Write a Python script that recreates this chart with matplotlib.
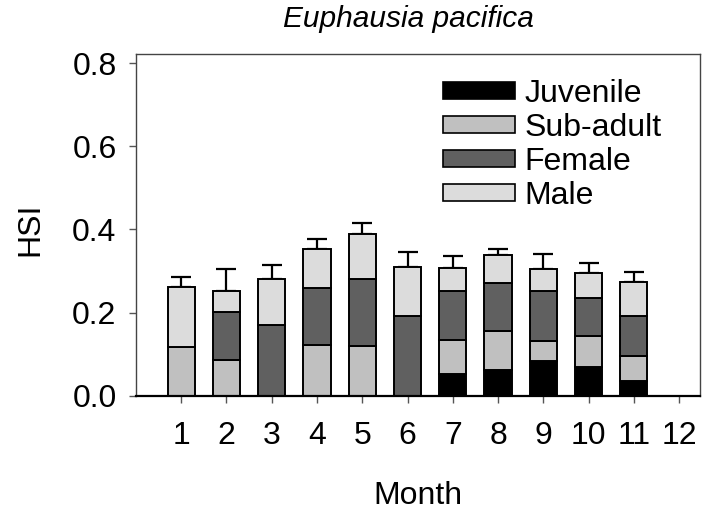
import numpy as np
import matplotlib
matplotlib.use("Agg")
import matplotlib.pyplot as plt
from matplotlib.patches import Patch

plt.rcParams["font.family"] = ["Liberation Sans", "DejaVu Sans"]

meses = np.arange(1, 13)
juvenil = [0, 0, 0, 0, 0, 0, 0.053, 0.062, 0.083, 0.070, 0.037, 0]
subadulto = [0.117, 0.086, 0, 0.122, 0.119, 0, 0.082, 0.095, 0.050, 0.075, 0.060, 0]
hembra = [0, 0.115, 0.170, 0.138, 0.161, 0.192, 0.118, 0.114, 0.119, 0.090, 0.095, 0]
macho = [0.144, 0.052, 0.111, 0.093, 0.108, 0.118, 0.054, 0.068, 0.052, 0.060, 0.082, 0]
error = [0.024, 0.051, 0.034, 0.023, 0.027, 0.036, 0.029, 0.014, 0.037, 0.024, 0.024, 0]

etiquetas = ["Juvenile", "Sub-adult", "Female", "Male"]
colores = ["#000000", "#c0c0c0", "#606060", "#dcdcdc"]

fig = plt.figure(figsize=(7.02, 5.15), dpi=100)
ax = fig.add_axes([0.1937, 0.2311, 0.997 - 0.1937, 0.8951 - 0.2311])

ancho = 0.6
base = np.zeros(12)
for valores, color in zip([juvenil, subadulto, hembra, macho], colores):
    v = np.array(valores)
    ax.bar(meses, v, ancho, bottom=base, color=color, edgecolor="black",
           linewidth=1.4, zorder=2)
    base = base + v

total = base
hay = total > 0
ax.errorbar(meses[hay], total[hay], yerr=[np.zeros(hay.sum()), np.array(error)[hay]],
            fmt="none", ecolor="black", elinewidth=1.6, capsize=7.5,
            capthick=1.6, zorder=1)

ax.set_ylim(0, 0.8216)
ax.set_xlim(0.0, 12.46)
ax.set_yticks([0.0, 0.2, 0.4, 0.6, 0.8])
ax.set_yticklabels(["0.0", "0.2", "0.4", "0.6", "0.8"])
ax.set_xticks(meses)
ax.tick_params(axis="y", labelsize=23, length=5, width=1, pad=9, color="#555555")
ax.tick_params(axis="x", labelsize=23, length=5, width=1, pad=13, color="#555555")

for s in ["top", "right", "left"]:
    ax.spines[s].set_linewidth(1.0)
    ax.spines[s].set_color("#444444")
ax.spines["bottom"].set_linewidth(1.6)
ax.spines["bottom"].set_color("black")

fig.text(30 / 702, 1 - 229 / 515, "HSI", rotation=90, fontsize=23,
         ha="center", va="center")
fig.text(418 / 702, 1 - 496 / 515, "Month", fontsize=23, ha="center", va="center")
fig.text(408 / 702, 1 - 19 / 515, "Euphausia pacifica", fontsize=21.5,
         style="italic", ha="center", va="center")

manijas = [Patch(facecolor=c, edgecolor="black", linewidth=1.2) for c in colores]
ax.legend(manijas, etiquetas, loc="upper left", bbox_to_anchor=(443 / 702, 1 - 79 / 515),
          bbox_transform=fig.transFigure, frameon=False, fontsize=23,
          borderpad=0, borderaxespad=0, handlelength=2.25, handleheight=0.45,
          handletextpad=0.3, labelspacing=0.12)

fig.savefig("out.png", dpi=100)
